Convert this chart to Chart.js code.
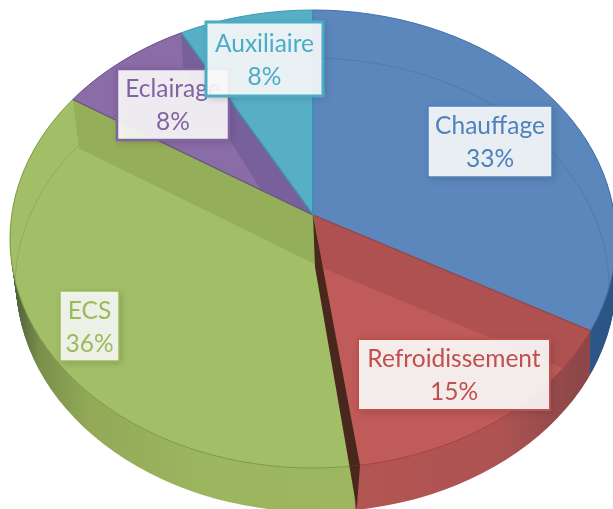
<!DOCTYPE html>
<html>
<head>
<meta charset="utf-8">
<style>
    html, body { margin: 0; padding: 0; background: #fff; overflow: hidden; }
    canvas { display: block; }
</style>
<script src="https://cdn.jsdelivr.net/npm/chart.js@4"></script>
</head>
<body>
<canvas id="myChart" width="613" height="509"></canvas>
<script>
// Data
const categories = ['Chauffage', 'Refroidissement', 'ECS', 'Eclairage', 'Auxiliaire'];
const shares = [33, 15, 36, 8, 8];

// Colours, same order as the categories
const litColors = ['#5b87bd', '#bf5b58', '#a2bf68', '#8a6ca6', '#57afc7'];
const shadeColors = ['#5b87bd', '#ae5150', '#94ae59', '#77609c', '#57afc7'];
const edgeColors = ['#3f70a8', '#a8423f', '#7f9c45', '#674f8c', '#3d97b0'];
const textColors = ['#4f81bd', '#c0504d', '#9bbb59', '#8064a2', '#4bacc6'];
const boxFills = ['rgba(255,255,255,0.88)', 'rgba(255,255,255,0.89)', 'rgba(255,255,255,0.85)', 'rgba(255,255,255,0.88)', 'rgba(255,255,255,0.88)'];

// Label boxes: left, top, right, bottom
const labelBoxes = [
    [428, 106, 552, 177],
    [358, 339, 550, 410],
    [60, 291, 119, 361],
    [117, 69, 229, 140],
    [206, 22, 323, 96]
];
const labelBorders = [1.5, 2, 1.5, 2.5, 3];

// Projection of the flat pie onto the tilted disc
const apexX = 313, apexY = 215;
const discX = 313, discY = 239, discRx = 303, discRy = 229;
const perX = 303, perY = 230;
const stretch = 1.7;
const depth = 44;

// Darker inner faces: which slice, which of its angles, offset at the rim, offset at the apex
const bands = [
    { slice: 1, side: 'startAngle', rim: [-7, 46], apex: [10, 53] },
    { slice: 2, side: 'endAngle', rim: [6, 49], apex: [10, 53] },
    { slice: 3, side: 'endAngle', rim: [2, 33], apex: [-50, -22] }
];

// Side wall gradients: [x in pixels, colour]
const wallStops = [
    [[560, '#2e5c8e'], [613, '#2a5484']],
    [[350, '#b35553'], [500, '#ad5352'], [578, '#8e4748']],
    [[14, '#4c5e38'], [40, '#7a904c'], [90, '#92aa58'], [200, '#9cb55f'], [360, '#9db660']],
    [[0, '#5d4a7a'], [613, '#5d4a7a']],
    [[0, '#3d8aa0'], [613, '#3d8aa0']]
];

const paintArc = (arc, ctx, fill, border, width) => {
    const saved = arc.options;
    const o = Object.create(saved);
    o.backgroundColor = fill;
    o.borderColor = border;
    o.borderWidth = width;
    arc.options = o;
    arc.draw(ctx);
    arc.options = saved;
};

const project = (ctx, arc) => {
    const sx = perX * stretch / arc.outerRadius;
    const sy = perY * stretch / arc.outerRadius;
    ctx.translate(apexX, apexY);
    ctx.scale(sx, sy);
    ctx.translate(-arc.x, -arc.y);
    return [sx, sy];
};

const wedgePath = (ctx, arc) => {
    ctx.beginPath();
    ctx.moveTo(arc.x, arc.y);
    ctx.arc(arc.x, arc.y, arc.outerRadius, arc.startAngle, arc.endAngle);
    ctx.closePath();
};

const discClip = (ctx) => {
    ctx.beginPath();
    ctx.ellipse(discX, discY, discRx, discRy, 0, 0, Math.PI * 2);
    ctx.clip();
};

// Where a pie angle meets the disc rim
const rimPoint = (angle) => {
    const dx = Math.cos(angle) * perX, dy = Math.sin(angle) * perY;
    const ox = apexX - discX, oy = apexY - discY;
    const a = dx * dx / (discRx * discRx) + dy * dy / (discRy * discRy);
    const b = 2 * (ox * dx / (discRx * discRx) + oy * dy / (discRy * discRy));
    const c = ox * ox / (discRx * discRx) + oy * oy / (discRy * discRy) - 1;
    const t = (-b + Math.sqrt(b * b - 4 * a * c)) / (2 * a);
    return [apexX + dx * t, apexY + dy * t];
};

const drawWalls = (ctx, arcs) => {
    for (let d = depth; d >= 1; d--) {
        const t = d / depth;
        ctx.save();
        // the underside sits a little narrower and to the right
        ctx.beginPath();
        ctx.ellipse(discX + 3 * t, discY + 42 * t, discRx - 3 * t, discRy + 2 * t, 0, 0, Math.PI * 2);
        ctx.clip();
        ctx.translate(0, d);
        arcs.forEach((arc, i) => {
            ctx.save();
            const s = project(ctx, arc);
            const toLocal = (px) => (px - apexX) / s[0] + arc.x;
            const stops = wallStops[i];
            const x0 = stops[0][0], x1 = stops[stops.length - 1][0];
            const grad = ctx.createLinearGradient(toLocal(x0), 0, toLocal(x1), 0);
            stops.forEach((st) => grad.addColorStop((st[0] - x0) / (x1 - x0), st[1]));
            paintArc(arc, ctx, grad, grad, 0);
            ctx.restore();
        });
        ctx.restore();
    }
};

const drawTop = (ctx, arcs) => {
    arcs.forEach((arc, i) => {
        ctx.save();
        discClip(ctx);
        project(ctx, arc);
        paintArc(arc, ctx, litColors[i], litColors[i], 0);
        ctx.restore();
    });

    // faint inner ring
    ctx.save();
    discClip(ctx);
    ctx.beginPath();
    ctx.ellipse(312, 287, 297, 229, 0, Math.PI, Math.PI * 2);
    ctx.strokeStyle = 'rgba(30,50,40,0.13)';
    ctx.lineWidth = 1;
    ctx.stroke();
    ctx.restore();

    // darker inner faces, kept inside their slice
    bands.forEach((band) => {
        const arc = arcs[band.slice];
        const p = rimPoint(arc[band.side]);
        ctx.save();
        discClip(ctx);
        ctx.save();
        project(ctx, arc);
        wedgePath(ctx, arc);
        ctx.restore();
        ctx.clip();
        ctx.fillStyle = shadeColors[band.slice];
        ctx.beginPath();
        ctx.moveTo(apexX, apexY);
        ctx.lineTo(p[0], p[1]);
        ctx.lineTo(p[0] + band.rim[0], p[1] + band.rim[1]);
        ctx.lineTo(apexX + band.apex[0], apexY + band.apex[1]);
        ctx.closePath();
        ctx.fill();
        ctx.restore();
    });

    // edges of the slices
    arcs.forEach((arc, i) => {
        ctx.save();
        discClip(ctx);
        project(ctx, arc);
        paintArc(arc, ctx, 'rgba(0,0,0,0)', edgeColors[i], 0.7);
        ctx.restore();
    });

    // rim of the disc, coloured per slice
    arcs.forEach((arc, i) => {
        ctx.save();
        ctx.save();
        project(ctx, arc);
        wedgePath(ctx, arc);
        ctx.restore();
        ctx.clip();
        ctx.beginPath();
        ctx.ellipse(discX, discY, discRx, discRy, 0, 0, Math.PI * 2);
        ctx.strokeStyle = edgeColors[i];
        ctx.lineWidth = 1;
        ctx.stroke();
        ctx.restore();
    });
};

// Dark gap between the cooling and hot water slices
const drawGap = (ctx, arcs) => {
    const end = arcs[1].endAngle;
    const a = rimPoint(end - 0.016);
    const b = rimPoint(end + 0.016);
    ctx.fillStyle = '#4a271c';
    ctx.beginPath();
    ctx.moveTo(apexX, apexY);
    ctx.lineTo(apexX + 10, apexY + 53);
    ctx.lineTo(a[0], a[1]);
    ctx.lineTo(b[0], b[1]);
    ctx.lineTo(apexX + 2, apexY + 52);
    ctx.closePath();
    ctx.fill();
    ctx.beginPath();
    ctx.moveTo(a[0], a[1]);
    ctx.lineTo(b[0], b[1]);
    ctx.lineTo((a[0] + b[0]) / 2 + 2, a[1] + depth);
    ctx.closePath();
    ctx.fill();
};

const discPlugin = {
    id: 'disc',
    beforeDatasetsDraw(chart) {
        const ctx = chart.ctx;
        const arcs = chart.getDatasetMeta(0).data;
        drawWalls(ctx, arcs);
        drawTop(ctx, arcs);
        drawGap(ctx, arcs);
        return false;
    },
    afterDraw(chart) {
        const ctx = chart.ctx;
        labelBoxes.forEach((box, i) => {
            const w = box[2] - box[0], h = box[3] - box[1];
            ctx.save();
            ctx.shadowColor = 'rgba(40,40,40,0.28)';
            ctx.shadowBlur = 7;
            ctx.shadowOffsetX = 2;
            ctx.shadowOffsetY = 2;
            ctx.fillStyle = boxFills[i];
            ctx.fillRect(box[0], box[1], w, h);
            ctx.restore();

            ctx.save();
            ctx.strokeStyle = textColors[i];
            ctx.lineWidth = labelBorders[i];
            ctx.strokeRect(box[0], box[1], w, h);
            ctx.fillStyle = textColors[i];
            ctx.font = '24.5px Lato, "Open Sans", sans-serif';
            ctx.textAlign = 'center';
            ctx.textBaseline = 'middle';
            const cx = (box[0] + box[2]) / 2, cy = (box[1] + box[3]) / 2;
            ctx.fillText(categories[i], cx, cy - 15);
            ctx.fillText(shares[i] + '%', cx, cy + 18);
            ctx.restore();
        });
    }
};

const chart = new Chart('myChart', {
    type: 'pie',
    data: {
        labels: categories,
        datasets: [{
            data: shares,
            backgroundColor: litColors,
            borderWidth: 0
        }]
    },
    options: {
        responsive: false,
        animation: false,
        layout: { padding: 0 },
        plugins: {
            legend: { display: false },
            tooltip: { enabled: false }
        }
    },
    plugins: [discPlugin]
});
</script>
</body>
</html>
